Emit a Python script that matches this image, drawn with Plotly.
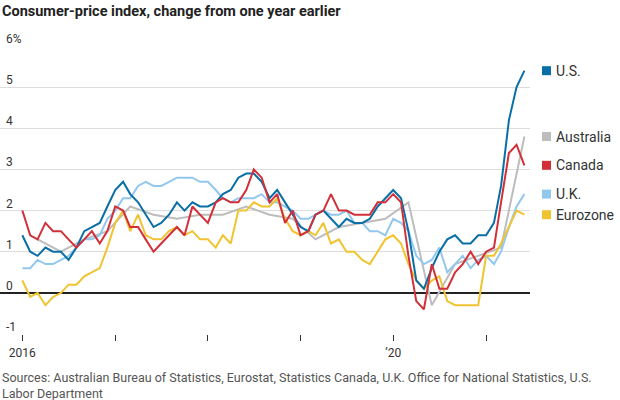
import pandas as pd
import plotly.graph_objects as go

# ---- data ----
months = pd.date_range("2016-01-01", "2021-06-01", freq="MS")
quarters = pd.date_range("2016-03-01", "2021-06-01", freq="3MS")

us = [1.4, 1.0, 0.9, 1.1, 1.0, 1.0, 0.8, 1.1, 1.5, 1.6, 1.7, 2.1,
      2.5, 2.7, 2.4, 2.2, 1.9, 1.6, 1.7, 1.9, 2.2, 2.0, 2.2, 2.1,
      2.1, 2.2, 2.4, 2.5, 2.8, 2.9, 2.9, 2.7, 2.3, 2.5, 2.2, 1.9,
      1.6, 1.5, 1.9, 2.0, 1.8, 1.6, 1.8, 1.7, 1.7, 1.8, 2.1, 2.3,
      2.5, 2.3, 1.5, 0.3, 0.1, 0.6, 1.0, 1.3, 1.4, 1.2, 1.2, 1.4,
      1.4, 1.7, 2.6, 4.2, 5.0, 5.4]
canada = [2.0, 1.4, 1.3, 1.7, 1.5, 1.5, 1.3, 1.1, 1.3, 1.5, 1.2, 1.5,
          2.1, 2.0, 1.6, 1.6, 1.3, 1.0, 1.2, 1.4, 1.6, 1.4, 2.1, 1.9,
          1.7, 2.2, 2.3, 2.2, 2.2, 2.5, 3.0, 2.8, 2.2, 2.4, 1.7, 2.0,
          1.4, 1.5, 1.9, 2.0, 2.4, 2.0, 2.0, 1.9, 1.9, 1.9, 2.2, 2.2,
          2.4, 2.2, 0.9, -0.2, -0.4, 0.7, 0.1, 0.1, 0.5, 0.7, 1.0, 0.7,
          1.0, 1.1, 2.2, 3.4, 3.6, 3.1]
uk = [0.6, 0.6, 0.8, 0.7, 0.7, 0.8, 0.9, 1.1, 1.3, 1.3, 1.4, 1.8,
      2.0, 2.3, 2.3, 2.6, 2.7, 2.6, 2.6, 2.7, 2.8, 2.8, 2.8, 2.7,
      2.7, 2.5, 2.3, 2.2, 2.3, 2.3, 2.3, 2.4, 2.2, 2.2, 2.1, 2.0,
      1.8, 1.8, 1.9, 2.0, 1.9, 1.9, 2.0, 1.7, 1.7, 1.5, 1.5, 1.4,
      1.8, 1.7, 1.5, 0.9, 0.7, 0.8, 1.1, 0.5, 0.7, 0.9, 0.6, 0.8,
      0.9, 0.7, 1.0, 1.6, 2.1, 2.4]
eurozone = [0.3, -0.1, 0.0, -0.3, -0.1, 0.0, 0.2, 0.2, 0.4, 0.5, 0.6, 1.1,
            1.7, 2.0, 1.5, 1.9, 1.4, 1.3, 1.3, 1.5, 1.6, 1.4, 1.5, 1.3,
            1.3, 1.1, 1.4, 1.2, 2.0, 2.0, 2.2, 2.1, 2.1, 2.3, 1.8, 1.5,
            1.4, 1.5, 1.4, 1.7, 1.2, 1.3, 1.0, 1.0, 0.8, 0.7, 1.0, 1.3,
            1.4, 1.2, 0.7, 0.3, 0.1, 0.3, 0.4, -0.2, -0.3, -0.3, -0.3, -0.3,
            0.9, 0.9, 1.2, 1.6, 2.0, 1.9]
australia = [1.3, 1.0, 1.3, 1.5, 2.1, 1.9, 1.8, 1.9, 1.9, 2.1, 1.9, 1.8,
             1.3, 1.6, 1.7, 1.8, 2.2, -0.3, 0.7, 0.9, 1.1, 3.8]

y_ticks = [6, 5, 4, 3, 2, 1, 0, -1]
y_tick_labels = ["6%", "5", "4", "3", "2", "1", "0", "-1"]
x_ticks = ["2016-01-01", "2017-01-01", "2018-01-01", "2019-01-01", "2020-01-01", "2021-01-01"]
x_tick_labels = ["2016", "", "", "", "\u201920", ""]

title = "Consumer-price index, change from one year earlier"
source = ("Sources: Australian Bureau of Statistics, Eurostat, Statistics Canada, "
          "U.K. Office for National Statistics, U.S.<br>Labor Department")

colors = {
    "U.S.": "#0a6fa6",
    "Australia": "#bdbdbd",
    "Canada": "#d22f38",
    "U.K.": "#92c8ee",
    "Eurozone": "#f0c431",
}

FONT = "Roboto, sans-serif"

series = [
    ("Australia", quarters, australia),
    ("U.K.", months, uk),
    ("Eurozone", months, eurozone),
    ("U.S.", months, us),
    ("Canada", months, canada),
]

fig = go.Figure()
for name, xs, ys in series:
    fig.add_trace(go.Scatter(x=xs, y=ys, mode="lines", name=name,
                             line=dict(color=colors[name], width=2),
                             hoverinfo="skip", showlegend=False))

PLOT_W = 530.0
PLOT_TOP = 46.0
PLOT_BOT = 334.3
PLOT_H = PLOT_BOT - PLOT_TOP
PX_PER_UNIT = PLOT_H / 7.0

annotations = []
# title
annotations.append(dict(text="<b>" + title + "</b>", xref="paper", yref="paper",
                        x=0, y=1 + (PLOT_TOP - 11) / PLOT_H, xanchor="left", yanchor="middle",
                        showarrow=False, font=dict(family=FONT, size=14.5, color="#222")))
# y tick labels above gridlines
for v, lab in zip(y_ticks, y_tick_labels):
    annotations.append(dict(text=lab, xref="paper", yref="y", x=4 / PLOT_W, y=v,
                            xanchor="left", yanchor="bottom", yshift=-2,
                            showarrow=False, font=dict(family=FONT, size=12, color="#333")))
# legend labels at end values
order = [("U.S.", us), ("Australia", australia), ("Canada", canada),
         ("U.K.", uk), ("Eurozone", eurozone)]
shapes = []
for name, vals in order:
    v = vals[-1]
    annotations.append(dict(text=name, xref="paper", yref="y", x=554 / PLOT_W, y=v,
                            xanchor="left", yanchor="middle", showarrow=False,
                            font=dict(family=FONT, size=14, color="#333")))
    half = 4.5 / PX_PER_UNIT
    shapes.append(dict(type="rect", xref="paper", yref="y",
                       x0=542 / PLOT_W, x1=551 / PLOT_W, y0=v - half, y1=v + half,
                       fillcolor=colors[name], line=dict(width=0)))
# source
annotations.append(dict(text=source, xref="paper", yref="paper", x=0,
                        y=-(368 - PLOT_BOT) / PLOT_H,
                        xanchor="left", yanchor="top", align="left", showarrow=False,
                        font=dict(family=FONT, size=12.5, color="#555")))

fig.update_layout(
    width=620, height=400,
    margin=dict(l=0, r=90, t=PLOT_TOP, b=400 - PLOT_BOT, autoexpand=False),
    paper_bgcolor="white", plot_bgcolor="white",
    annotations=annotations, shapes=shapes,
    xaxis=dict(type="date", range=["2015-10-05", "2021-06-23"],
               tickvals=x_ticks, ticktext=x_tick_labels,
               ticks="outside", ticklen=6, tickcolor="#333", tickwidth=1,
               ticklabelstandoff=2, automargin=False,
               showgrid=False, zeroline=False, showline=False,
               tickfont=dict(family=FONT, size=12, color="#333")),
    yaxis=dict(range=[-1, 6], tickvals=y_ticks, showticklabels=False,
               showgrid=True, gridcolor="#dddddd", gridwidth=1, automargin=False,
               zeroline=True, zerolinecolor="#222", zerolinewidth=1.5,
               showline=False, ticks=""),
)

fig.write_html("out.html", config={"displayModeBar": False},
               post_script="document.body.style.margin='0';")
